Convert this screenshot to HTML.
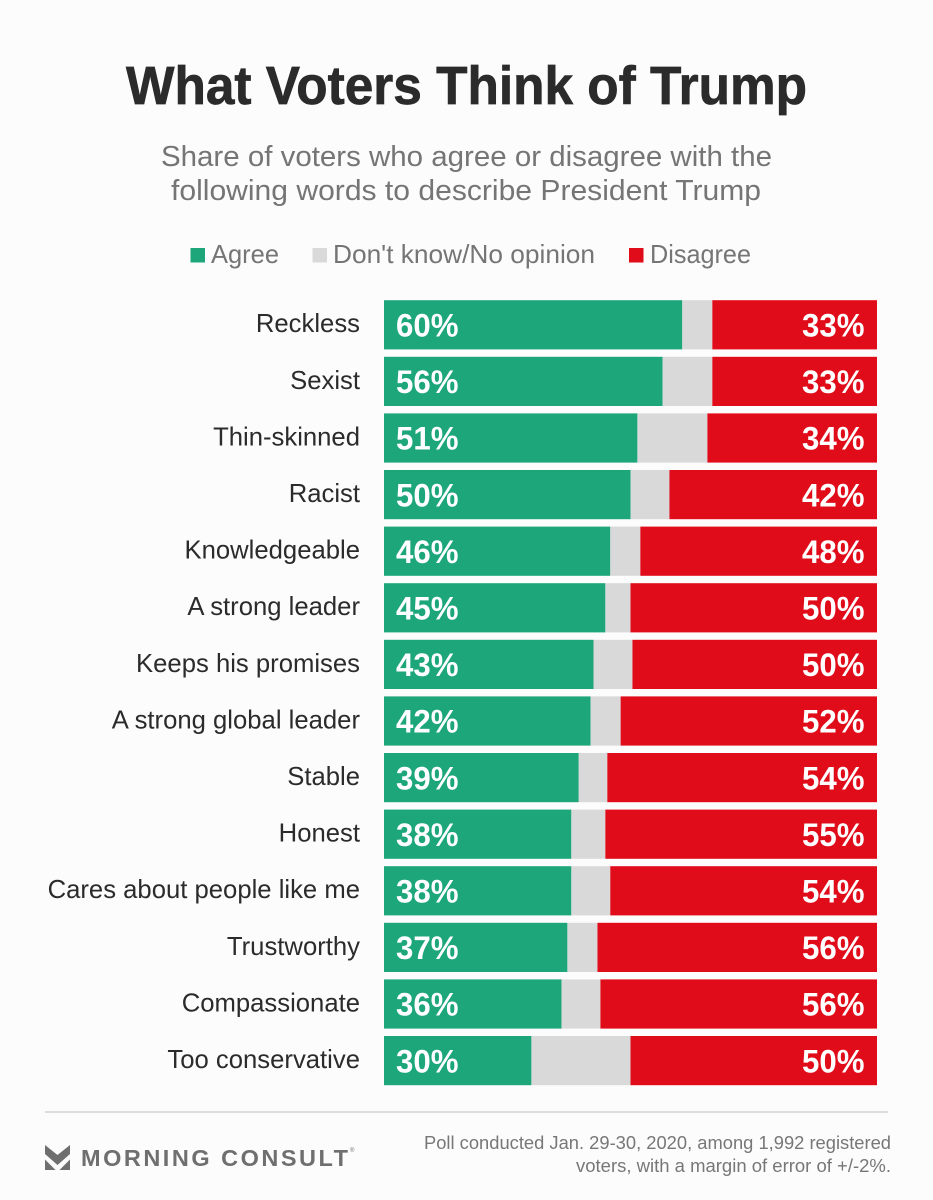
<!DOCTYPE html>
<html lang="en">
<head>
<meta charset="utf-8">
<title>What Voters Think of Trump</title>
<style>
html,body{margin:0;padding:0;background:#fcfcfc;}
svg{display:block;font-family:"Liberation Sans",sans-serif;}
</style>
</head>
<body>
<svg id="chart" xmlns="http://www.w3.org/2000/svg" width="933" height="1200" viewBox="0 0 933 1200">
  <rect x="0" y="0" width="933" height="1200" fill="#fcfcfc"/>
  <text x="126" y="104" font-size="54" font-weight="700" fill="#2b2b2b" stroke="#2b2b2b" stroke-width="0.7" textLength="681" lengthAdjust="spacingAndGlyphs">What Voters Think of Trump</text>
  <text x="161" y="166" font-size="29" fill="#757575" textLength="611" lengthAdjust="spacingAndGlyphs">Share of voters who agree or disagree with the</text>
  <text x="171" y="200" font-size="29" fill="#757575" textLength="590" lengthAdjust="spacingAndGlyphs">following words to describe President Trump</text>

  <g>
    <rect x="190.5" y="248" width="14.5" height="14.5" fill="#1ca67a"/>
    <text x="211" y="263" font-size="26" fill="#757575" textLength="68" lengthAdjust="spacingAndGlyphs">Agree</text>
    <rect x="312.5" y="248" width="14.5" height="14.5" fill="#d9d9d9"/>
    <text x="333" y="263" font-size="26" fill="#757575" textLength="262" lengthAdjust="spacingAndGlyphs">Don't know/No opinion</text>
    <rect x="629" y="248" width="14.5" height="14.5" fill="#e10c1a"/>
    <text x="650" y="263" font-size="26" fill="#757575" textLength="101" lengthAdjust="spacingAndGlyphs">Disagree</text>
  </g>

  <g id="bars"></g>

  <rect x="45" y="1111" width="843" height="2" fill="#dddddd"/>
  <g fill="#6f6f6f">
    <polygon points="45,1145 57.5,1155 70,1145 70,1154 57.5,1165 45,1154"/>
    <polygon points="45,1159.5 45,1170 55.5,1170"/>
    <polygon points="70,1159.5 70,1170 59.5,1170"/>
    <text x="81" y="1166" font-size="23.5" font-weight="700" textLength="267" lengthAdjust="spacing">MORNING CONSULT</text>
    <text x="350" y="1152" font-size="6">®</text>
  </g>
  <text x="424" y="1149" font-size="18.5" fill="#777777" textLength="467" lengthAdjust="spacingAndGlyphs">Poll conducted Jan. 29-30, 2020, among 1,992 registered</text>
  <text x="576" y="1172" font-size="18.5" fill="#777777" textLength="315" lengthAdjust="spacingAndGlyphs">voters, with a margin of error of +/-2%.</text>
</svg>
<script>
var categories = ["Reckless","Sexist","Thin-skinned","Racist","Knowledgeable","A strong leader","Keeps his promises","A strong global leader","Stable","Honest","Cares about people like me","Trustworthy","Compassionate","Too conservative"];
var agreeValues = [60.5,56.5,51.4,50,45.9,44.9,42.5,41.9,39.5,38,38,37.2,36,29.9];
var disagreeValues = [33.4,33.4,34.4,42.1,48,50,49.6,52,54.7,55.1,54.1,56.7,56.1,50];
var agreeLabels = ["60%","56%","51%","50%","46%","45%","43%","42%","39%","38%","38%","37%","36%","30%"];
var disagreeLabels = ["33%","33%","34%","42%","48%","50%","50%","52%","54%","55%","54%","56%","56%","50%"];

var NS = "http://www.w3.org/2000/svg";
var barsGroup = document.getElementById("bars");
var plotLeft = 384, plotRight = 877, plotTop = 300.2, rowStep = 56.6, barHeight = 49.2;
var labelCondense = 0.987, valueCondense = 0.975;

function xScale(v) { return (plotRight - plotLeft) * v / 100; }
function yScale(i) { return plotTop + i * rowStep; }

function makeRect(x, y, w, h, fill) {
  var r = document.createElementNS(NS, "rect");
  r.setAttribute("x", x);
  r.setAttribute("y", y);
  r.setAttribute("width", w);
  r.setAttribute("height", h);
  r.setAttribute("fill", fill);
  return r;
}
function makeText(str, x, y, size, weight, fill, anchor, condense) {
  var t = document.createElementNS(NS, "text");
  t.textContent = str;
  t.setAttribute("x", x);
  t.setAttribute("y", y);
  t.setAttribute("font-size", size);
  t.setAttribute("font-weight", weight);
  t.setAttribute("fill", fill);
  t.setAttribute("text-anchor", anchor);
  barsGroup.appendChild(t);
  t.setAttribute("textLength", t.getComputedTextLength() * condense);
  t.setAttribute("lengthAdjust", "spacingAndGlyphs");
  return t;
}

categories.forEach(function (name, i) {
  var y = yScale(i);
  var agreeW = xScale(agreeValues[i]);
  var disagreeW = xScale(disagreeValues[i]);
  var disagreeX = plotRight - disagreeW;
  var neutralX = plotLeft + agreeW;

  var agreeBar = makeRect(plotLeft, y, agreeW, barHeight, "#1ca67a");
  
  
  barsGroup.appendChild(agreeBar);

  var neutralBar = makeRect(neutralX, y, disagreeX - neutralX, barHeight, "#d9d9d9");
  
  
  barsGroup.appendChild(neutralBar);

  var disagreeBar = makeRect(disagreeX, y, disagreeW, barHeight, "#e10c1a");
  
  
  barsGroup.appendChild(disagreeBar);

  var label = makeText(name, 360, y + 32, 26, 400, "#2b2b2b", "end", labelCondense);
  
  

  var agreeText = makeText(agreeLabels[i], plotLeft + 12, y + 36.3, 32, 700, "#ffffff", "start", valueCondense);
  
  

  var disagreeText = makeText(disagreeLabels[i], plotRight - 12.5, y + 36.3, 32, 700, "#ffffff", "end", valueCondense);
  
  
});
</script>
</body>
</html>
